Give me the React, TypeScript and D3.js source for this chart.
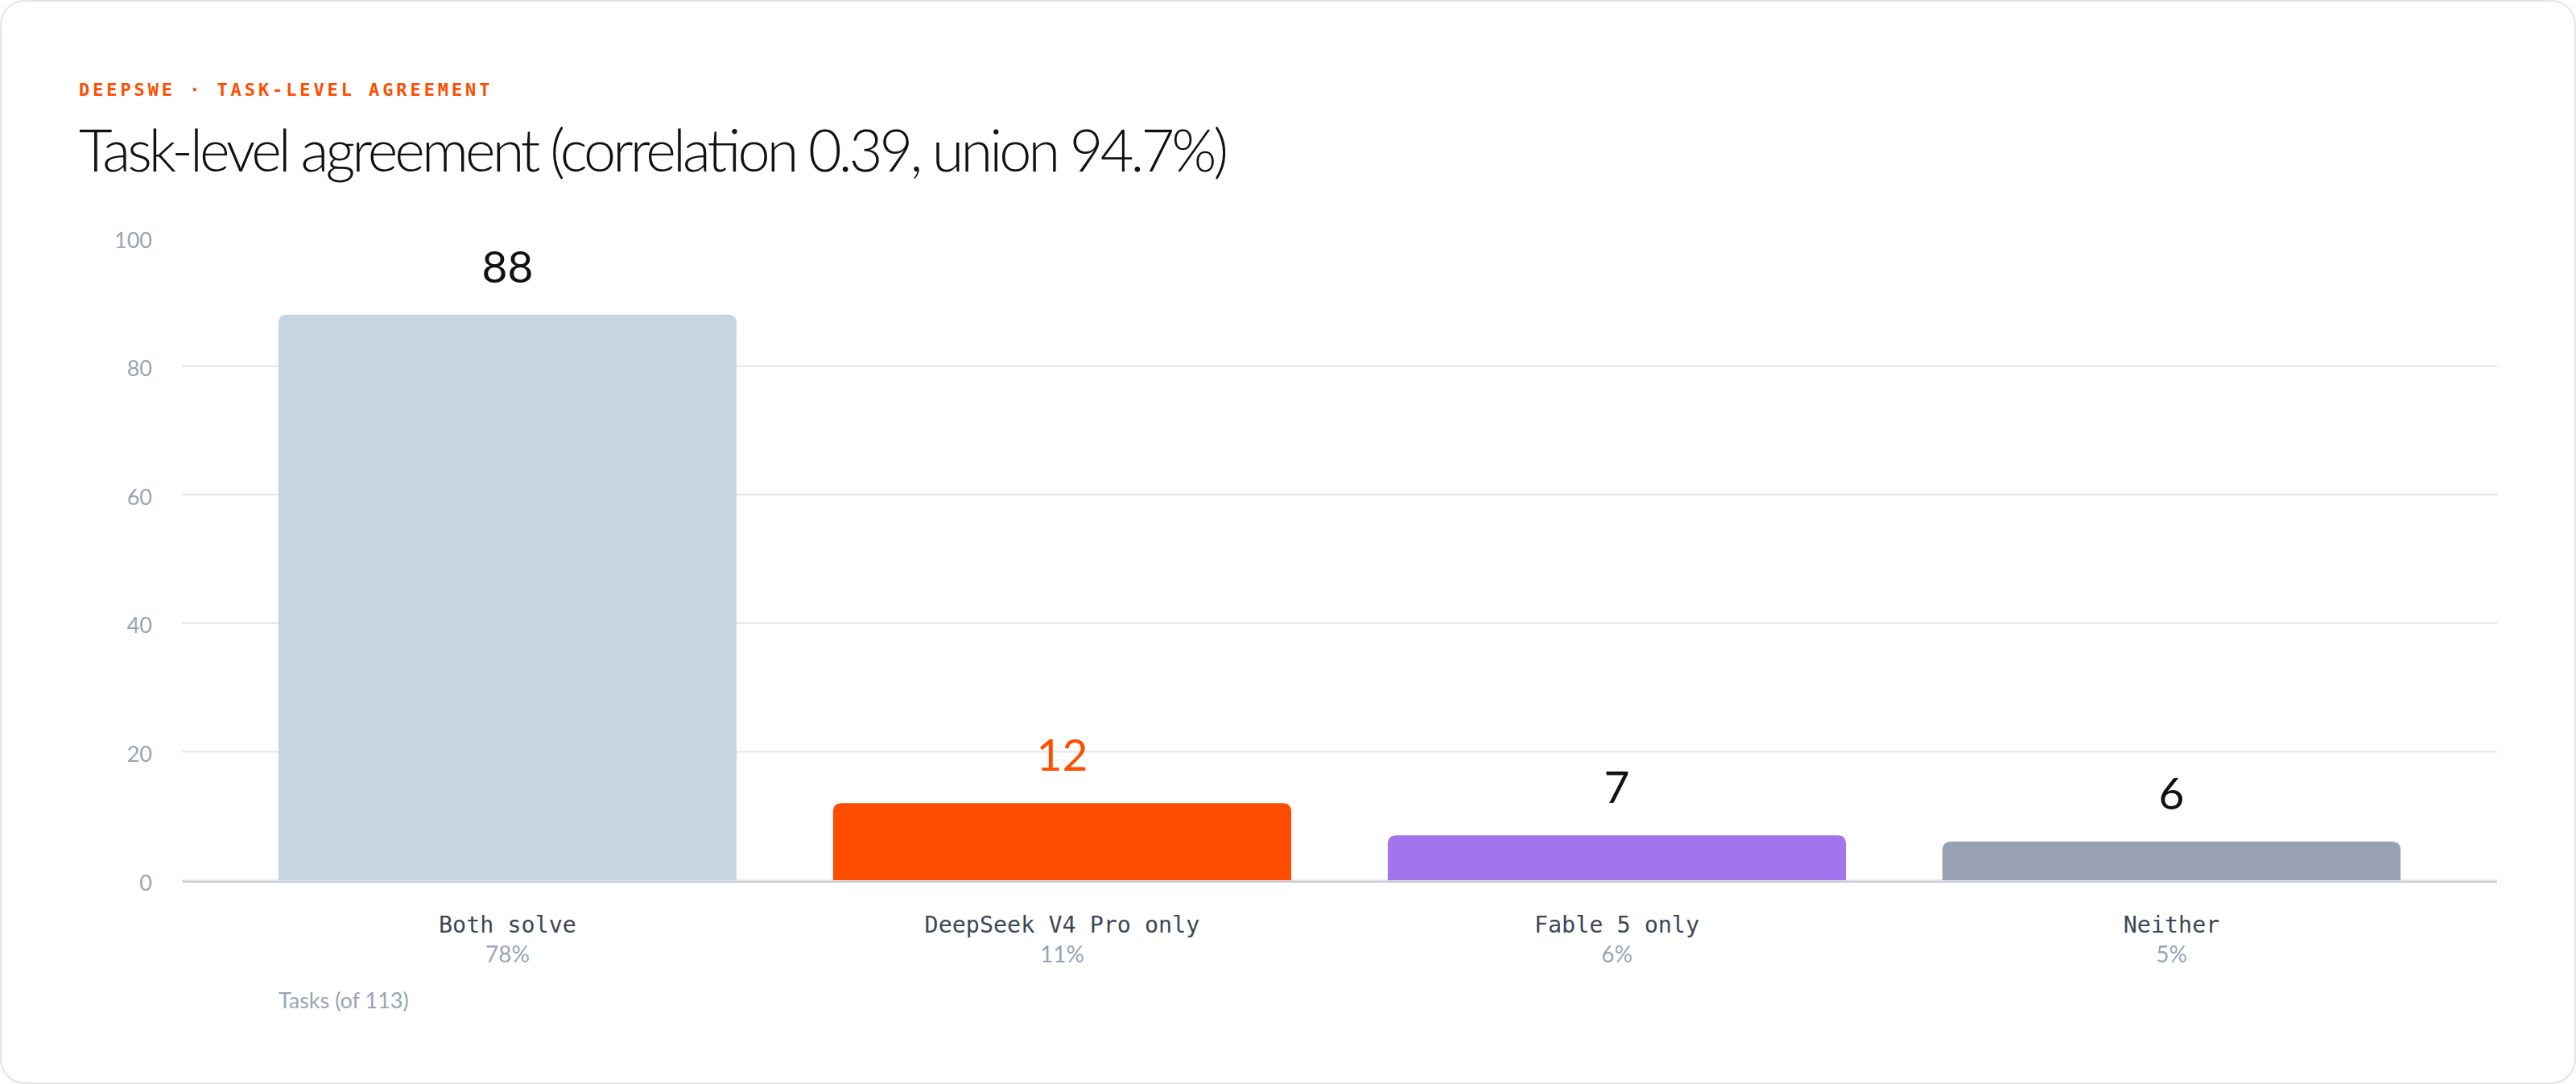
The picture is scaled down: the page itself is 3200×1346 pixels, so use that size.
import { useEffect, useRef } from 'react'
import * as d3 from 'd3'

const categories = ['Both solve', 'DeepSeek V4 Pro only', 'Fable 5 only', 'Neither']
const counts = [88, 12, 7, 6]
const barColors = ['#c5d5e2', '#ff4d00', '#a175ec', '#98a1b3']
const valueColors = ['#111111', '#ff4d00', '#111111', '#111111']
const yTicks = [0, 20, 40, 60, 80, 100]
const totalTasks = 113

const eyebrow = 'DEEPSWE · TASK-LEVEL AGREEMENT'
const title = 'Task-level agreement (correlation 0.39, union 94.7%)'
const yLabel = `Tasks (of ${totalTasks})`

const W = 3200
const H = 1346
const sans = 'Lato, "Noto Sans", sans-serif'
const mono = '"DejaVu Sans Mono", monospace'

// bar with rounded top corners only
function topRounded(x: number, y: number, w: number, h: number, r: number) {
  const rr = Math.min(r, h, w / 2)
  return `M${x},${y + h}V${y + rr}Q${x},${y} ${x + rr},${y}H${x + w - rr}Q${x + w},${y} ${x + w},${y + rr}V${y + h}Z`
}

export default function App() {
  const svgRef = useRef<SVGSVGElement>(null)

  useEffect(() => {
    if (!svgRef.current) return
    const svg = d3.select(svgRef.current)
    svg.selectAll('*').remove()

    // card
    svg.append('rect')
      .attr('x', 1).attr('y', 1)
      .attr('width', W - 2).attr('height', H - 2)
      .attr('rx', 30)
      .attr('fill', '#fff')
      .attr('stroke', '#e3e3ea')
      .attr('stroke-width', 2)

    svg.append('text')
      .attr('x', 98).attr('y', 119)
      .attr('font-family', mono)
      .attr('font-weight', 700)
      .attr('font-size', 22)
      .attr('letter-spacing', 3.9)
      .attr('fill', '#ff4d00')
      .text(eyebrow)

    svg.append('text')
      .attr('x', 98).attr('y', 213)
      .attr('font-family', sans)
      .attr('font-weight', 300)
      .attr('font-size', 72)
      .attr('fill', '#111')
      .attr('textLength', 1428)
      .attr('lengthAdjust', 'spacing')
      .text(title)

    const x = d3.scaleBand<string>()
      .domain(categories)
      .range([226, 3102])
      .padding(0.174)

    const y = d3.scaleLinear()
      .domain([0, 100])
      .range([1093, 295])

    // grid
    svg.append('g')
      .selectAll('line')
      .data(yTicks.filter(t => t < 100))
      .join('line')
      .attr('x1', 226).attr('x2', 3102)
      .attr('y1', d => y(d)).attr('y2', d => y(d))
      .attr('stroke', '#e3e4ea')
      .attr('stroke-width', 2)

    // y tick labels
    svg.append('g')
      .selectAll('text')
      .data(yTicks)
      .join('text')
      .attr('x', 189)
      .attr('y', d => y(d) + 2)
      .attr('text-anchor', 'end')
      .attr('dominant-baseline', 'central')
      .attr('font-family', sans)
      .attr('font-size', 27)
      .attr('fill', '#9aa3b8')
      .text(d => d)

    // bars
    svg.append('g')
      .selectAll('path')
      .data(counts)
      .join('path')
      .attr('d', (d, i) => topRounded(x(categories[i])!, y(d), x.bandwidth(), y(0) - y(d), 11))
      .attr('fill', (d, i) => barColors[i])

    // axis line
    svg.append('line')
      .attr('x1', 226).attr('x2', 3102)
      .attr('y1', y(0) + 2).attr('y2', y(0) + 2)
      .attr('stroke', '#c9ccd8')
      .attr('stroke-width', 2)

    // value labels
    svg.append('g')
      .selectAll('text')
      .data(counts)
      .join('text')
      .attr('x', (d, i) => x(categories[i])! + x.bandwidth() / 2)
      .attr('y', d => y(d) - 40)
      .attr('text-anchor', 'middle')
      .attr('font-family', sans)
      .attr('font-size', 55)
      .attr('fill', (d, i) => valueColors[i])
      .text(d => d)

    // category labels
    svg.append('g')
      .selectAll('text')
      .data(categories)
      .join('text')
      .attr('x', d => x(d)! + x.bandwidth() / 2)
      .attr('y', 1158)
      .attr('text-anchor', 'middle')
      .attr('font-family', mono)
      .attr('font-size', 28.4)
      .attr('fill', '#3d4656')
      .text(d => d)

    // shares
    svg.append('g')
      .selectAll('text')
      .data(counts)
      .join('text')
      .attr('x', (d, i) => x(categories[i])! + x.bandwidth() / 2)
      .attr('y', 1195)
      .attr('text-anchor', 'middle')
      .attr('font-family', sans)
      .attr('font-size', 28)
      .attr('fill', '#9aa3b8')
      .text(d => `${Math.round((d / totalTasks) * 100)}%`)

    svg.append('text')
      .attr('x', x(categories[0])!)
      .attr('y', 1252)
      .attr('font-family', sans)
      .attr('font-size', 27)
      .attr('fill', '#9aa3b8')
      .text(yLabel)
  }, [])

  return (
    <svg
      ref={svgRef}
      width={W}
      height={H}
      style={{ position: 'absolute', left: 0, top: 0, display: 'block' }}
    />
  )
}
